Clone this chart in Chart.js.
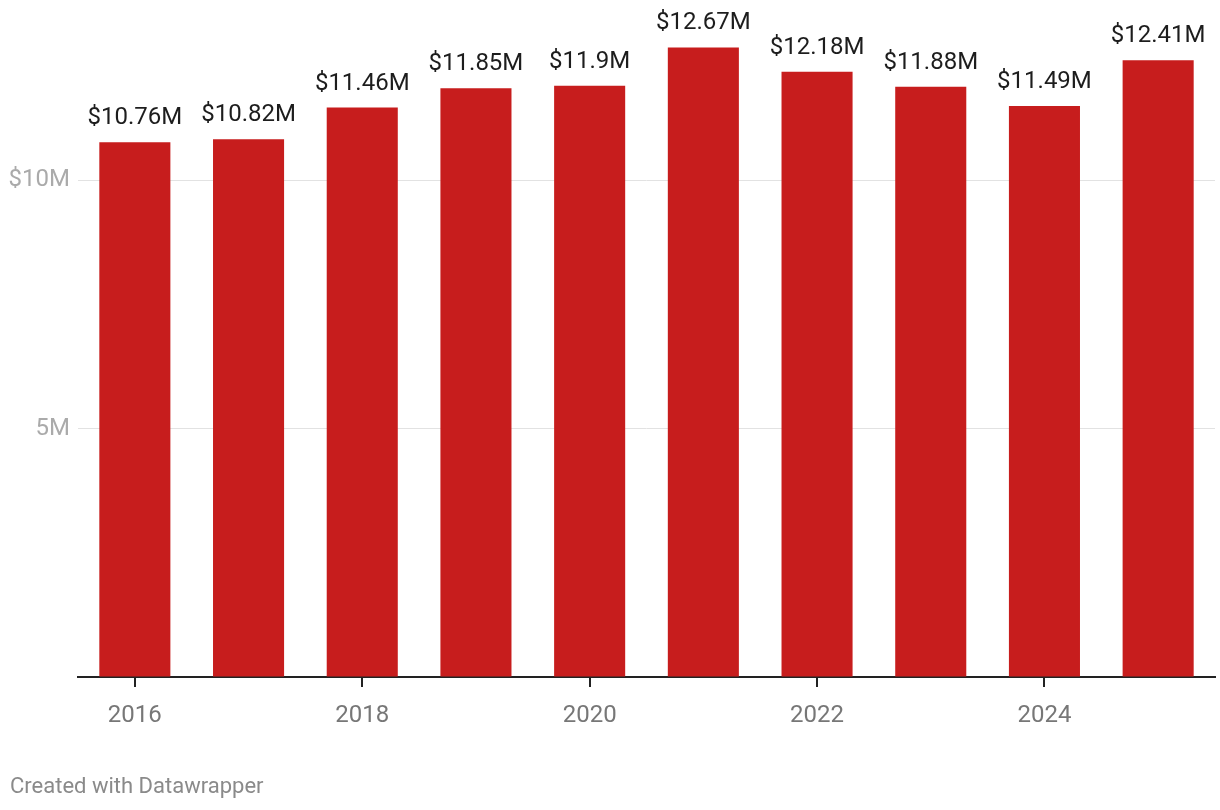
<!DOCTYPE html>
<html>
<head>
<meta charset="utf-8">
<script src="https://cdn.jsdelivr.net/npm/chart.js@4"></script>
<style>
  body { margin: 0; background: #fff; }
  #wrap { position: relative; width: 1220px; height: 810px; }
  #credit {
    position: absolute; left: 10px; top: 773px;
    font-family: Roboto, sans-serif; font-size: 22px; color: #8a8a8a;
  }
</style>
</head>
<body>
<div id="wrap">
  <canvas id="chart" width="1220" height="810"></canvas>
  <div id="credit">Created with Datawrapper</div>
</div>
<script>
// Data
var years = ["2016", "2017", "2018", "2019", "2020", "2021", "2022", "2023", "2024", "2025"];
var revenue = [10.76, 10.82, 11.46, 11.85, 11.9, 12.67, 12.18, 11.88, 11.49, 12.41];
var yTicks = { 5: "5M", 10: "$10M" };

// value labels above bars
var barLabels = {
  id: "barLabels",
  afterDatasetsDraw: function (chart) {
    var ctx = chart.ctx;
    var meta = chart.getDatasetMeta(0);
    ctx.save();
    ctx.font = "24px Roboto";
    ctx.fillStyle = "#1d1d1d";
    ctx.textAlign = "center";
    ctx.textBaseline = "middle";
    meta.data.forEach(function (bar, i) {
      ctx.fillText("$" + revenue[i] + "M", bar.x, bar.y - 24);
    });
    ctx.restore();
  }
};

var ctx = document.getElementById("chart").getContext("2d");
var myChart = new Chart(ctx, {
  type: "bar",
  data: {
    labels: years,
    datasets: [{
      data: revenue,
      backgroundColor: "#c71d1d",
      barPercentage: 0.625,
      categoryPercentage: 1
    }]
  },
  options: {
    responsive: false,
    animation: false,
    layout: { padding: { top: 31, right: 5, bottom: 50, left: 0 } },
    plugins: { legend: { display: false }, tooltip: { enabled: false } },
    scales: {
      x: {
        afterFit: function (scale) { scale.height = 83; },
        border: { color: "#222", width: 2 },
        grid: {
          offset: false,
          drawOnChartArea: false,
          tickLength: 10,
          lineWidth: 2,
          color: function (c) { return c.index % 2 === 0 ? "#222" : "rgba(0,0,0,0)"; }
        },
        ticks: {
          autoSkip: false,
          maxRotation: 0,
          padding: 15,
          color: "#777",
          font: { family: "Roboto", size: 24 },
          callback: function (v, i) { return i % 2 === 0 ? years[i] : ""; }
        }
      },
      y: {
        min: 0,
        max: 13,
        afterFit: function (scale) { scale.width = 78; },
        border: { display: false },
        grid: {
          drawTicks: false,
          color: function (c) { return yTicks[c.tick.value] ? "#e2e2e2" : "rgba(0,0,0,0)"; }
        },
        ticks: {
          stepSize: 5,
          padding: 8,
          color: "#aaa",
          font: { family: "Roboto", size: 24 },
          callback: function (v) { return yTicks[v] || ""; }
        }
      }
    }
  },
  plugins: [barLabels]
});
</script>
</body>
</html>
